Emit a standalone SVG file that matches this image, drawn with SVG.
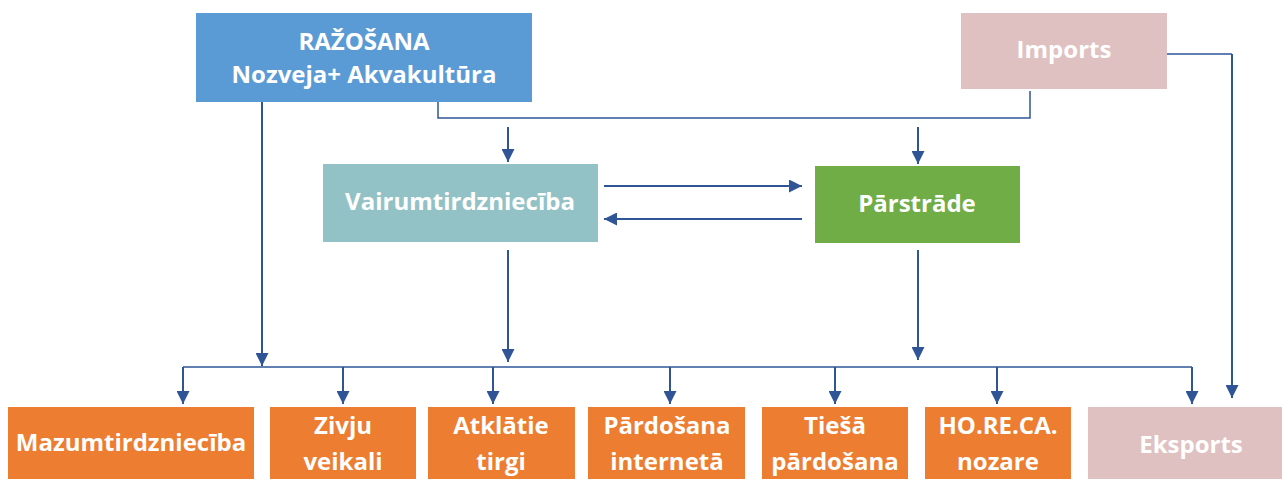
<svg xmlns="http://www.w3.org/2000/svg" width="1282" height="479" viewBox="0 0 1282 479">
<style>
.t{font-family:"Open Sans","Liberation Sans",sans-serif;font-weight:bold;font-size:24px;fill:#ffffff;text-anchor:middle}
.c{fill:none;stroke:#2F5597;stroke-width:2}
.o{fill:#ED7D31}
</style>
<defs>
<marker id="ah" viewBox="0 0 10 10" refX="10" refY="5" markerWidth="6.5" markerHeight="6.5" markerUnits="strokeWidth" orient="auto">
<path d="M0,0 L10,5 L0,10 Z" fill="#2F5597"/>
</marker>
</defs>
<rect width="1282" height="479" fill="#ffffff"/>
<g id="razosana"><rect x="196" y="13" width="336" height="89" fill="#5B9BD5"/><text class="t" x="364" y="50">RAŽOŠANA</text><text class="t" x="364" y="83">Nozveja+ Akvakultūra</text></g>
<g id="imports"><rect x="961" y="13" width="206" height="76" fill="#E0C1C2"/><text class="t" x="1064" y="58">Imports</text></g>
<g id="vairum"><rect x="323" y="164" width="275" height="78" fill="#93C2C6"/><text class="t" x="460" y="210">Vairumtirdzniecība</text></g>
<g id="parstrade"><rect x="815" y="166" width="205" height="77" fill="#70AD47"/><text class="t" x="917" y="212">Pārstrāde</text></g>
<g id="mazum"><rect class="o" x="8" y="407" width="246" height="72"/><text class="t" x="131" y="451">Mazumtirdzniecība</text></g>
<g id="zivju"><rect class="o" x="270" y="407" width="146" height="72"/><text class="t" x="343" y="434">Zivju</text><text class="t" x="343" y="470">veikali</text></g>
<g id="atklatie"><rect class="o" x="428" y="407" width="147" height="72"/><text class="t" x="501" y="434">Atklātie</text><text class="t" x="501" y="470">tirgi</text></g>
<g id="internet"><rect class="o" x="588" y="407" width="157" height="72"/><text class="t" x="667" y="434">Pārdošana</text><text class="t" x="667" y="470">internetā</text></g>
<g id="tiesa"><rect class="o" x="762" y="407" width="146" height="72"/><text class="t" x="835" y="434">Tiešā</text><text class="t" x="835" y="470">pārdošana</text></g>
<g id="horeca"><rect class="o" x="925" y="407" width="146" height="72"/><text class="t" x="998" y="434">HO.RE.CA.</text><text class="t" x="998" y="470">nozare</text></g>
<g id="eksports"><rect x="1088" y="407" width="194" height="72" fill="#E0C1C2"/><text class="t" x="1191" y="453">Eksports</text></g>
<g id="connectors">
<path class="c" d="M262,102 V366" marker-end="url(#ah)"/>
<path class="c" style="stroke-width:1.5" d="M438,102 V118 H1030 V91"/>
<path class="c" d="M508,127 V162" marker-end="url(#ah)"/>
<path class="c" d="M918,127 V164" marker-end="url(#ah)"/>
<path class="c" style="stroke-width:1.5" d="M1167,54 H1232"/>
<path class="c" d="M1232,54 V398" marker-end="url(#ah)"/>
<path class="c" d="M604,186 H802" marker-end="url(#ah)"/>
<path class="c" d="M802,219 H604" marker-end="url(#ah)"/>
<path class="c" d="M508,250 V362" marker-end="url(#ah)"/>
<path class="c" d="M918,250 V360" marker-end="url(#ah)"/>
<path class="c" style="stroke-width:1.5" d="M183,367 H1192"/>
<path class="c" d="M183,367 V404" marker-end="url(#ah)"/>
<path class="c" d="M343,367 V404" marker-end="url(#ah)"/>
<path class="c" d="M493,367 V404" marker-end="url(#ah)"/>
<path class="c" d="M670,367 V404" marker-end="url(#ah)"/>
<path class="c" d="M835,367 V404" marker-end="url(#ah)"/>
<path class="c" d="M997,367 V404" marker-end="url(#ah)"/>
<path class="c" d="M1192,367 V404" marker-end="url(#ah)"/>
</g>
</svg>
